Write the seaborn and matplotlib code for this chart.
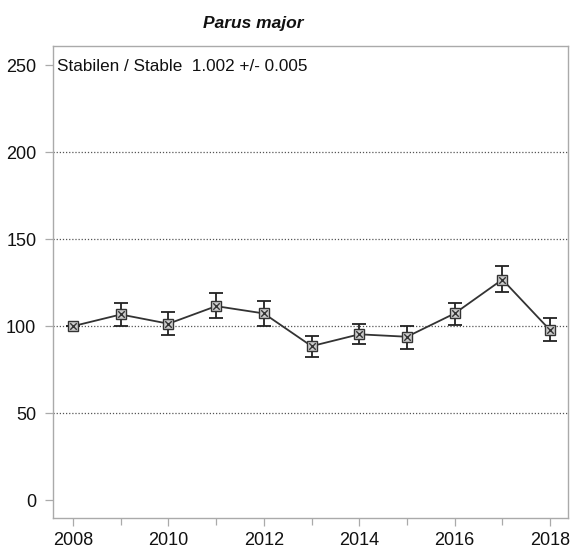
import matplotlib
matplotlib.use("Agg")
import matplotlib.pyplot as plt
import seaborn as sns
import pandas as pd
import numpy as np
from matplotlib.ticker import MultipleLocator

years = [2008, 2009, 2010, 2011, 2012, 2013, 2014, 2015, 2016, 2017, 2018]
index = [100, 106.7, 101.4, 111.5, 107.3, 88.5, 95.3, 93.9, 107.3, 126.8, 97.7]
lower = [100, 100.0, 95.0, 104.4, 100.0, 82.0, 89.5, 87.0, 100.4, 119.7, 91.5]
upper = [100, 113.4, 107.9, 119.2, 114.4, 94.3, 101.0, 99.8, 113.4, 134.6, 104.4]
title = "Parus major"
trend_text = "Stabilen / Stable  1.002 +/- 0.005"
yticks = [0, 50, 100, 150, 200, 250]
gridlines = [50, 100, 150, 200]
xticks = [2008, 2010, 2012, 2014, 2016, 2018]

df = pd.DataFrame({"year": years, "index": index, "lower": lower, "upper": upper})

sns.set_theme(style="white")
plt.rcParams["font.family"] = ["Liberation Sans", "DejaVu Sans"]

fig = plt.figure(figsize=(5.7, 5.49), dpi=100)
ax = fig.add_axes([0.093, 0.0565, 0.903, 0.8595])

for g in gridlines:
    ax.axhline(g, color="#555555", linestyle=(0, (1, 1.5)), linewidth=0.9, zorder=1)

yerr = np.array([df["index"] - df["lower"], df["upper"] - df["index"]])
ax.errorbar(df["year"], df["index"], yerr=yerr, fmt="none", ecolor="#222222",
            elinewidth=1.3, capsize=5, capthick=1.3, zorder=2)

sns.lineplot(data=df, x="year", y="index", ax=ax, color="#333333", linewidth=1.3,
             marker="s", markersize=7, markerfacecolor="#cccccc",
             markeredgecolor="#333333", markeredgewidth=1.0, zorder=3)
sns.scatterplot(data=df, x="year", y="index", ax=ax, marker="x", s=22,
                color="#333333", linewidth=1.0, zorder=4)

ax.set_xlim(2007.58, 2018.37)
ax.set_ylim(-10.3, 261)
ax.set_xticks(xticks)
ax.xaxis.set_minor_locator(MultipleLocator(1))
ax.set_yticks(yticks)
ax.set_xlabel("")
ax.set_ylabel("")

for s in ax.spines.values():
    s.set_color("#aaaaaa")
    s.set_linewidth(1.0)

ax.tick_params(axis="both", which="major", direction="out", length=6, width=0.9,
               color="#aaaaaa", labelsize=13, labelcolor="#111111", pad=6,
               bottom=True, left=True)
ax.tick_params(axis="x", which="major", pad=4)
ax.tick_params(axis="x", which="minor", direction="out", length=5, width=0.9,
               color="#aaaaaa", bottom=True)

ax.text(0.0075, 0.957, trend_text, transform=ax.transAxes, fontsize=12.3,
        color="#111111", ha="left", va="center")

fig.text(0.444, 0.958, title, fontsize=12.5, fontweight="bold", fontstyle="italic",
         ha="center", va="center", color="#111111")

fig.savefig("out.png", dpi=100)
